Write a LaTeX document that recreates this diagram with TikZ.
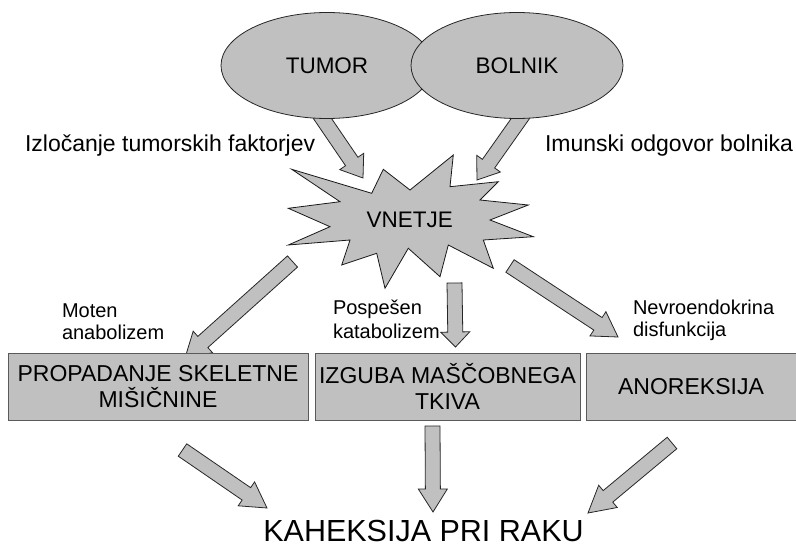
\documentclass[tikz,border=0pt]{standalone}
\usepackage{fontspec}
\setmainfont{Liberation Sans}
\usetikzlibrary{calc,shapes.geometric}
\definecolor{fillgray}{HTML}{C0C0C0}
\definecolor{boxline}{HTML}{5A5A5A}
\newcommand{\blockarr}[3]{%
  \coordinate (hb) at ($(#2)!#3!(#1)$);
  \draw[blockarrow] ($(#1)!7.5pt!90:(#2)$) -- ($(hb)!7.5pt!-90:(#1)$) -- ($(hb)!14.5pt!-90:(#1)$) -- (#2) -- ($(hb)!14.5pt!90:(#1)$) -- ($(hb)!7.5pt!90:(#1)$) -- ($(#1)!7.5pt!-90:(#2)$) -- cycle;}
\tikzset{
  every node/.style={inner sep=0pt, outer sep=0pt},
  blockarrow/.style={draw=black!85, fill=fillgray, line width=0.8pt, line join=miter},
  oval/.style={ellipse, draw=black!85, fill=fillgray, line width=0.8pt, minimum width=212pt, minimum height=106pt, font=\fontsize{22.5}{27}\selectfont},
  starshape/.style={draw=black!90, fill=fillgray, line width=0.8pt, line join=miter},
  boxnode/.style={draw=boxline, fill=fillgray, line width=0.8pt, minimum height=67pt, align=center, font=\fontsize{23}{26}\selectfont},
  sidelabel/.style={anchor=base west, font=\fontsize{23}{27}\selectfont},
  smalllabel/.style={anchor=base west, font=\fontsize{20}{23}\selectfont},
}
\begin{document}
\begin{tikzpicture}[x=1pt,y=-1pt]
\useasboundingbox (0,0) rectangle (796,548);
\clip (0,0) rectangle (796,548);
% arrow coordinates
\coordinate (t1) at (318,112); \coordinate (h1) at (363,178);
\coordinate (t2) at (525,112); \coordinate (h2) at (477,180);
\coordinate (t3) at (292.5,261.5); \coordinate (h3) at (185,358);
\coordinate (t4) at (454.5,283); \coordinate (h4) at (455.5,347);
\coordinate (t5) at (510,266); \coordinate (h5) at (618,337);
\coordinate (t6) at (182.5,450); \coordinate (h6) at (267,508);
\coordinate (t7) at (432.5,426); \coordinate (h7) at (433,512);
\coordinate (t8) at (672,443); \coordinate (h8) at (588,513);
\blockarr{t1}{h1}{20pt}
\blockarr{t2}{h2}{20pt}
\blockarr{t3}{h3}{24pt}
\blockarr{t4}{h4}{15pt}
\blockarr{t5}{h5}{24pt}
\blockarr{t6}{h6}{25pt}
\blockarr{t7}{h7}{23pt}
\blockarr{t8}{h8}{26pt}
% ellipses
\node[oval] (tumor) at (327,65.5) {TUMOR};
\node[oval] (bolnik) at (517,65.5) {BOLNIK};
% star
\draw[starshape] (291.7,169.3) -- (371.7,193.3) -- (383.3,169.3) -- (410,190) -- (453.3,155) -- (450,186.7) -- (498.3,181.7) -- (480,200) -- (528.3,205) -- (490,220) -- (533.3,236.7) -- (483.3,240) -- (493.3,268.3) -- (448.3,245) -- (440,276.7) -- (408.3,248.3) -- (385,288.3) -- (376.7,253.3) -- (341.7,265) -- (350,240) -- (288.3,245) -- (330,226.7) -- (288.3,208.3) -- (340,201.7) -- cycle;
\node[font=\fontsize{22.5}{27}\selectfont] (vnetje) at (409.7,220) {VNETJE};
% side labels
\node[sidelabel] (izl) at (25,152) {Izločanje tumorskih faktorjev};
\node[sidelabel] (imu) at (545,152) {Imunski odgovor bolnika};
% small labels
\node[smalllabel] (mot1) at (62,318) {Moten};
\node[smalllabel] (mot2) at (62,340) {anabolizem};
\node[smalllabel] (pos1) at (333,315) {Pospešen};
\node[smalllabel] (pos2) at (333,338) {katabolizem};
\node[smalllabel] (nev1) at (633,315) {Nevroendokrina};
\node[smalllabel] (nev2) at (633,337) {disfunkcija};
% boxes
\node[boxnode, minimum width=300pt] (prop) at (158,386.5) {PROPADANJE SKELETNE\\MIŠIČNINE};
\node[boxnode, minimum width=265pt] (izg) at (447.5,386.5) {IZGUBA MAŠČOBNEGA\\TKIVA};
\node[boxnode, minimum width=230pt] (ano) at (701,386.5) {\hspace*{-20pt}ANOREKSIJA};
% result
\node[anchor=base, text depth=0pt, font=\fontsize{30.5}{36}\selectfont] (kah) at (423.5,541) {KAHEKSIJA PRI RAKU};
\end{tikzpicture}
\end{document}
